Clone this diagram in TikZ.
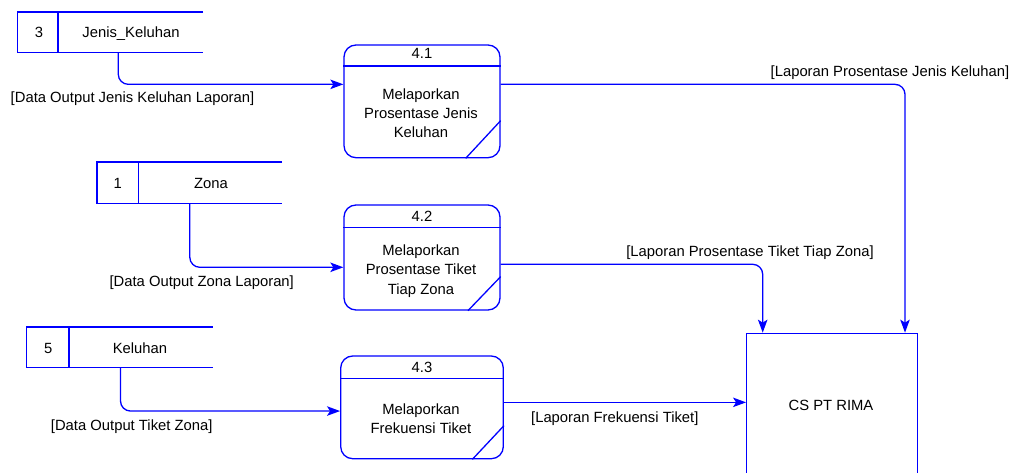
\documentclass[tikz,border=0pt]{standalone}
\usepackage{fontspec}
\setmainfont{Liberation Sans}
\usetikzlibrary{arrows.meta,calc}
\definecolor{dfdblue}{RGB}{0,0,255}

\begin{document}
\begin{tikzpicture}[x=1pt,y=-1pt,
  every node/.style={font=\fontsize{14.8}{20}\selectfont, text=black},
  txt/.style={anchor=base, inner sep=0pt},
  line/.style={draw=dfdblue, line width=1.3pt},
  flow/.style={line, rounded corners=10pt, -{Stealth[length=13pt,width=9.5pt,inset=3pt]}},
  proc/.style={line, rectangle, rounded corners=12pt, inner sep=0pt},
  store/.style={rectangle, inner sep=0pt, minimum height=40pt}]

\clip (0,0) rectangle (1016,473);

% ---------- data stores (open on the right) ----------
\node[store, minimum width=185.5pt] (s3) at (110.25,32.3) {};
\draw[line] (s3.north east) -- (s3.north west) -- (s3.south west) -- (s3.south east);
\draw[line] ([xshift=40.8pt]s3.north west) -- ([xshift=40.8pt]s3.south west);
\node[txt] (s3n) at (39,37.3) {3};
\node[txt] (s3t) at (131,37.3) {Jenis\_Keluhan};

\node[store, minimum width=184.7pt, minimum height=41pt] (s1) at (189.65,182.8) {};
\draw[line] (s1.north east) -- (s1.north west) -- (s1.south west) -- (s1.south east);
\draw[line] ([xshift=41.7pt]s1.north west) -- ([xshift=41.7pt]s1.south west);
\node[txt] (s1n) at (117.7,188.3) {1};
\node[txt] (s1t) at (211,188.3) {Zona};

\node[store, minimum width=185.6pt] (s5) at (119.5,347.3) {};
\draw[line] (s5.north east) -- (s5.north west) -- (s5.south west) -- (s5.south east);
\draw[line] ([xshift=42.6pt]s5.north west) -- ([xshift=42.6pt]s5.south west);
\node[txt] (s5n) at (48.3,353.3) {5};
\node[txt] (s5t) at (140,353.3) {Keluhan};

% ---------- processes ----------
\node[proc, minimum width=156pt, minimum height=112.7pt] (p41) at (422,101.35) {};
\draw[line] ([yshift=-21.7pt]p41.north west) -- ([yshift=-21.7pt]p41.north east);
\draw[line] ([xshift=-35pt]p41.south east) -- ([yshift=37.7pt]p41.south east);
\node[txt] (p41h) at (422,58.3) {4.1};
\node[txt] (p41a) at (421,99.3) {Melaporkan};
\node[txt] (p41b) at (421,118.5) {Prosentase Jenis};
\node[txt] (p41c) at (421,138) {Keluhan};

\node[proc, minimum width=156pt, minimum height=105pt] (p42) at (422,257.5) {};
\draw[line] ([yshift=-23.3pt]p42.north west) -- ([yshift=-23.3pt]p42.north east);
\draw[line] ([xshift=-32.7pt]p42.south east) -- ([yshift=34pt]p42.south east);
\node[txt] (p42h) at (422,221.7) {4.2};
\node[txt] (p42a) at (421,255) {Melaporkan};
\node[txt] (p42b) at (421,274.3) {Prosentase Tiket};
\node[txt] (p42c) at (421,294.3) {Tiap Zona};

\node[proc, minimum width=162.6pt, minimum height=102.7pt] (p43) at (422,407.35) {};
\draw[line] ([yshift=-23.3pt]p43.north west) -- ([yshift=-23.3pt]p43.north east);
\draw[line] ([xshift=-31.6pt]p43.south east) -- ([yshift=33.7pt]p43.south east);
\node[txt] (p43h) at (422,372.7) {4.3};
\node[txt] (p43a) at (421,414) {Melaporkan};
\node[txt] (p43b) at (421,433.3) {Frekuensi Tiket};

% ---------- external entity ----------
\node[line, rectangle, inner sep=0pt, minimum width=171pt, minimum height=166.7pt] (cs) at (832.2,416.65) {};
\node[txt] (cst) at (831,410) {CS PT RIMA};

% ---------- data flows ----------
\draw[flow] ([xshift=101pt]s3.south west) |- ([yshift=17pt]p41.west);
\draw[flow] ([xshift=92.7pt]s1.south west) |- ([yshift=-9.8pt]p42.west);
\draw[flow] ([xshift=94pt]s5.south west) |- ([yshift=-3.7pt]p43.west);
\draw[flow] ([yshift=17pt]p41.east) -| ([xshift=72.8pt]cs.north);
\draw[flow] ([yshift=-6.8pt]p42.east) -| ([xshift=-69.5pt]cs.north);
\draw[flow] ([yshift=5pt]p43.east) coordinate (f3) -- (f3 -| cs.west);

% ---------- flow labels ----------
\node[txt] (l1) at (132.5,103) {[Data Output Jenis Keluhan Laporan]};
\node[txt] (l2) at (201.7,286) {[Data Output Zona Laporan]};
\node[txt] (l3) at (131.7,430) {[Data Output Tiket Zona]};
\node[txt] (l4) at (890,76.7) {[Laporan Prosentase Jenis Keluhan]};
\node[txt] (l5) at (750,256.7) {[Laporan Prosentase Tiket Tiap Zona]};
\node[txt] (l6) at (614.8,422.7) {[Laporan Frekuensi Tiket]};
\end{tikzpicture}
\end{document}
